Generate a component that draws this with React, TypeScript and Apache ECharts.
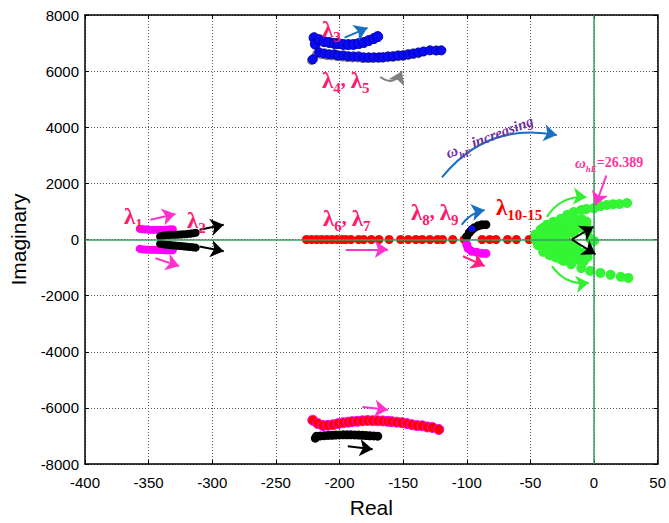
import React, { useEffect, useRef } from "react";
import * as echarts from "echarts";

// ---------- data (Real, Imaginary) ----------
const lambda1Up: number[][] = [[-357,380],[-355,370],[-353,360],[-351,355],[-349,350],[-347,350],[-345,345],[-343,345],[-341,345],[-339,350],[-337,350],[-335,355],[-333,360],[-331,365]];
const lambda1Low: number[][] = [[-357,-330],[-355,-345],[-353,-355],[-351,-360],[-349,-365],[-347,-365],[-345,-370],[-343,-370],[-341,-375],[-339,-375],[-337,-380],[-335,-380],[-333,-385],[-331,-385]];
const lambda2Up: number[][] = [[-341,110],[-339,130],[-337,150],[-335,160],[-333,165],[-331,170],[-329,170],[-327,175],[-325,180],[-323,185],[-321,190],[-319,200],[-317,210],[-315,225],[-313,240]];
const lambda2Low: number[][] = [[-341,-150],[-339,-165],[-337,-180],[-335,-190],[-333,-200],[-331,-210],[-329,-215],[-327,-225],[-325,-230],[-323,-240],[-321,-250],[-319,-260],[-317,-270],[-315,-280],[-313,-290]];
const lambda3: number[][] = [[-220,7190],[-219,6960],[-216,7120],[-212,7050],[-208,7020],[-204,6985],[-201,6980],[-197,6950],[-193,6945],[-189,6950],[-185,6980],[-181,7020],[-177,7090],[-173,7160],[-170,7230]];
const lambda4: number[][] = [[-221,6420],[-216,6670],[-212,6630],[-208,6600],[-204,6600],[-201,6560],[-197,6560],[-193,6530],[-189,6525],[-185,6525],[-181,6490],[-177,6490],[-173,6490],[-169,6490],[-166,6495],[-162,6525],[-158,6530],[-154,6560],[-150,6565],[-146,6600],[-142,6630],[-138,6665],[-134,6700],[-129,6740],[-124,6735],[-120,6740]];
const lambda5: number[][] = [[-222,6380],[-218,6600],[-214,6580],[-210,6550],[-206,6540],[-202,6520],[-198,6500],[-194,6480],[-190,6470],[-186,6470],[-182,6450],[-178,6450],[-174,6450],[-170,6455],[-166,6460],[-162,6480],[-158,6490],[-154,6510],[-150,6530],[-146,6560],[-142,6590],[-138,6620]];
const lambdaBottomRed: number[][] = [[-221,-6440],[-217,-6560],[-213,-6630],[-209,-6620],[-205,-6600],[-201,-6560],[-197,-6530],[-193,-6510],[-190,-6490],[-186,-6480],[-182,-6460],[-178,-6450],[-174,-6455],[-170,-6460],[-166,-6465],[-162,-6480],[-159,-6490],[-155,-6510],[-151,-6530],[-147,-6560],[-143,-6600],[-139,-6630],[-135,-6640],[-131,-6680],[-127,-6700],[-122,-6770]];
const lambdaBottomBlack: number[][] = [[-219,-7080],[-218,-7010],[-215,-7000],[-212,-6990],[-209,-6980],[-206,-6975],[-203,-6970],[-200,-6965],[-197,-6960],[-194,-6960],[-191,-6960],[-188,-6965],[-185,-6970],[-182,-6975],[-179,-6985],[-176,-6995],[-173,-7000],[-170,-7010]];
const lambda67: number[][] = [[-226,0],[-222,0],[-218,0],[-214,0],[-210,0],[-206,0],[-202,0],[-198,0],[-195,0],[-191,0],[-185,0],[-181,0],[-175,0],[-169,0],[-161,0],[-152,0],[-146,0],[-140,0],[-135,0],[-129,0],[-123,0],[-119,0],[-111,0],[-102,0],[-88,0],[-82,0],[-77,0],[-68,0],[-61,0],[-51,0],[-45,0],[-38,0],[-30,0],[-22,0]];
const lambda8: number[][] = [[-100,105],[-98,245],[-96,350],[-94,420],[-91,490],[-88,526],[-85,530]];
const lambda8Start: number[][] = [[-96,380]];
const lambda9: number[][] = [[-100,-175],[-99,-315],[-96,-420],[-92,-456],[-88,-491],[-85,-495]];
const greenUpOuter: number[][] = [[-46,180],[-42,350],[-37,530],[-32,630],[-26,740],[-21,880],[-16,980],[-10,1050],[-6,1090],[0,1120],[5,1190],[10,1230],[15,1260],[20,1265],[26,1300]];
const greenUpMid: number[][] = [[-44,120],[-39,250],[-34,370],[-29,470],[-24,560],[-19,640],[-14,700],[-10,740],[-6,640]];
const greenUpInner: number[][] = [[-43,60],[-38,150],[-33,230],[-28,300],[-23,350],[-18,390],[-13,400],[-8,380],[-5,300]];
const greenAxis: number[][] = [[-46,0],[-42,20],[-38,-20],[-34,40],[-30,-40],[-25,60],[0,-50],[-3,30]];
const greenLowInner: number[][] = [[-43,-80],[-38,-180],[-33,-260],[-28,-330],[-23,-380],[-18,-420],[-13,-450],[-8,-470]];
const greenLowMid: number[][] = [[-44,-150],[-39,-290],[-34,-410],[-29,-510],[-24,-590],[-18,-660],[-13,-720],[-8,-770],[-5,-620]];
const greenLowOuter: number[][] = [[-44,-200],[-39,-350],[-33,-530],[-26,-700],[-18,-880],[-10,-1020],[-3,-1120],[5,-1190],[13,-1260],[21,-1330],[27,-1370]];
const greenFill: number[][] = [[-45,-60],[-41,-120],[-40,100],[-36,-60],[-36,80],[-32,-150],[-32,150],[-28,-80],[-28,100],[-26,-200],[-26,220],[-22,-120],[-22,160],[-20,-260],[-20,260],[-16,-200],[-16,220],[-14,-300],[-12,520],[-12,-560],[-9,560],[-9,-600],[-6,450],[-6,-470],[-40,420],[-35,520],[-30,600],[-40,-440],[-35,-560],[-30,-640],[-24,-760],[-24,680]];

const X_MIN = -400, X_MAX = 50, X_STEP = 50;
const Y_MIN = -8000, Y_MAX = 8000, Y_STEP = 2000;

// annotation arrows (data coordinates)
const arrows = [
  { c: [[-348.5, 702], [-329, 912]], color: "#ff33cc", cv: 0 },
  { c: [[-344.6, -667], [-326, -947]], color: "#ff33cc", cv: 0 },
  { c: [[-310, 351], [-291, 526]], color: "#000000", cv: 0 },
  { c: [[-310, -246], [-291, -421]], color: "#000000", cv: 0 },
  { c: [[-196, 7193], [-178, 7544]], color: "#1a70c0", cv: 0 },
  { c: [[-168, 5790], [-151, 6000]], color: "#808080", cv: -0.6 },
  { c: [[-195, -351], [-162, -351]], color: "#ff33cc", cv: 0 },
  { c: [[-104, 526], [-86, 1053]], color: "#1a70c0", cv: 0.2 },
  { c: [[-103, -597], [-86, -947]], color: "#ff2080", cv: 0 },
  { c: [[-37, 807], [-6, 1509]], color: "#33ee33", cv: 0.3 },
  { c: [[-33, -947], [-4, -1544]], color: "#33ee33", cv: -0.3 },
  { c: [[-17.5, 0], [-0.4, 456]], color: "#000000", cv: 0 },
  { c: [[-17.5, 0], [1.2, -526]], color: "#000000", cv: 0 },
  { c: [[9.7, 2281], [1.2, 1228]], color: "#ff33cc", cv: 0 },
  { c: [[-119.5, 2211], [-29.2, 3720]], color: "#1a70c0", cv: 0.3 },
  { c: [[-182, -5965], [-162, -6070]], color: "#ff33cc", cv: 0 },
  { c: [[-193.5, -7369], [-174, -7474]], color: "#000000", cv: 0 },
];

const SERIF = "'Liberation Serif', 'Times New Roman', serif";
const SANS = "'Liberation Sans', Arial, sans-serif";

function sc(name: string, data: number[][], color: string, size: number, border?: string, z = 2) {
  return {
    name,
    type: "scatter",
    data,
    symbol: "circle",
    symbolSize: size,
    z,
    itemStyle: { color, opacity: 1, borderColor: border || color, borderWidth: border ? 1 : 0 },
    silent: true,
  };
}

const lamRich = (color: string) => ({
  l: { fontFamily: SERIF, fontSize: 23, fontWeight: "bold", fill: color, lineHeight: 22, verticalAlign: "top" },
  s: { fontFamily: SERIF, fontSize: 15, fontWeight: "bold", fill: color, lineHeight: 14, padding: [11, 0, 0, 0], verticalAlign: "top" },
  c: { fontFamily: SERIF, fontSize: 20, fontWeight: "bold", fill: color, lineHeight: 22, verticalAlign: "top" },
});

function lamText(x: number, y: number, text: string, color: string) {
  return {
    type: "text",
    x,
    y,
    z: 100,
    zlevel: 1,
    silent: true,
    style: { text, rich: lamRich(color), fill: color, textVerticalAlign: "top", textAlign: "left" },
  };
}

export default function App() {
  const ref = useRef<HTMLDivElement>(null);
  useEffect(() => {
    document.body.style.margin = "0";
    const chart = echarts.init(ref.current!, null, { renderer: "svg" });
    const axisCommon = {
      type: "value",
      axisLine: { show: true, onZero: false, lineStyle: { color: "#000", width: 1.5 } },
      axisTick: { show: true, inside: true, length: 4, lineStyle: { color: "#000" } },
    };
    const fmt = (v: number) => String(v);
    const option: any = {
      animation: false,
      backgroundColor: "#ffffff",
      grid: { left: 81, right: 8, top: 15, bottom: 52, containLabel: false },
      xAxis: [
        {
          ...axisCommon,
          min: X_MIN, max: X_MAX, interval: X_STEP,
          position: "bottom",
          name: "Real",
          nameLocation: "middle",
          nameGap: 33,
          nameTextStyle: { fontFamily: SANS, fontSize: 21, color: "#000" },
          axisLabel: { fontFamily: SANS, fontSize: 15, color: "#000", margin: 11, formatter: fmt },
          splitLine: { show: true, lineStyle: { type: [1, 2], color: "#555", width: 1 } },
        },
        {
          ...axisCommon,
          min: X_MIN, max: X_MAX, interval: X_STEP,
          position: "top",
          axisLabel: { show: false },
          splitLine: { show: false },
        },
      ],
      yAxis: [
        {
          ...axisCommon,
          min: Y_MIN, max: Y_MAX, interval: Y_STEP,
          position: "left",
          name: "Imaginary",
          nameLocation: "middle",
          nameGap: 56,
          nameTextStyle: { fontFamily: SANS, fontSize: 21, color: "#000" },
          axisLabel: { fontFamily: SANS, fontSize: 15, color: "#000", margin: 6, formatter: fmt },
          splitLine: { show: true, lineStyle: { type: [1, 2], color: "#555", width: 1 } },
        },
        {
          ...axisCommon,
          min: Y_MIN, max: Y_MAX, interval: Y_STEP,
          position: "right",
          axisLabel: { show: false },
          splitLine: { show: false },
        },
      ],
      series: [
        {
          type: "scatter",
          data: [],
          z: 1,
          markLine: {
            silent: true,
            symbol: ["none", "none"],
            label: { show: false },
            lineStyle: { color: "#3a9e60", width: 1.5, type: "solid" },
            data: [{ xAxis: 0 }, { yAxis: 0 }],
          },
        },
        sc("λ1 up", lambda1Up, "#ff00ff", 8),
        sc("λ1 low", lambda1Low, "#ff00ff", 8),
        sc("λ2 up", lambda2Up, "#000000", 8),
        sc("λ2 low", lambda2Low, "#000000", 8),
        sc("λ3", lambda3, "#0a0af5", 10, "#0000aa"),
        sc("λ5", lambda5, "#808080", 9),
        sc("λ4", lambda4, "#0a0af5", 9, "#0000aa"),
        sc("bottom red", lambdaBottomRed, "#ff0000", 10, "#ff00ff"),
        sc("bottom black", lambdaBottomBlack, "#000000", 9),
        sc("λ6,7", lambda67, "#ff0000", 9),
        sc("green up outer", greenUpOuter, "#33f533", 10),
        sc("green up mid", greenUpMid, "#33f533", 10),
        sc("green up inner", greenUpInner, "#33f533", 10),
        sc("green axis", greenAxis, "#33f533", 10),
        sc("green fill", greenFill, "#33f533", 10),
        sc("green low inner", greenLowInner, "#33f533", 10),
        sc("green low mid", greenLowMid, "#33f533", 10),
        sc("green low outer", greenLowOuter, "#33f533", 10),
        sc("λ8", lambda8, "#000000", 9),
        sc("λ8 start", lambda8Start, "#0a0af5", 7),
        sc("λ9", lambda9, "#ff00ff", 9),
        {
          type: "lines",
          coordinateSystem: "cartesian2d",
          silent: true,
          z: 10,
          symbol: ["none", "arrow"],
          symbolSize: [11, 13],
          lineStyle: { width: 2, opacity: 1 },
          data: arrows.map((a) => ({
            coords: a.c,
            lineStyle: { color: a.color, curveness: a.cv, width: 2, opacity: 1 },
          })),
        },
      ],
      graphic: {
        z: 100,
        zlevel: 1,
        elements: [
          lamText(124, 205, "{l|λ}{s|1}", "#ff1a6e"),
          lamText(187, 209, "{l|λ}{s|2}", "#ff1a6e"),
          lamText(322, 18, "{l|λ}{s|3}", "#ff1a6e"),
          lamText(322, 69, "{l|λ}{s|4}{c|, }{l|λ}{s|5}", "#ff1a6e"),
          lamText(323, 207, "{l|λ}{s|6}{c|, }{l|λ}{s|7}", "#ff1a6e"),
          lamText(411, 201, "{l|λ}{s|8}{c|, }{l|λ}{s|9}", "#ff1a6e"),
          lamText(496, 196, "{l|λ}{s|10-15}", "#ff0000"),
          {
            type: "text",
            x: 575,
            y: 155,
            z: 100,
            zlevel: 1,
            silent: true,
            style: {
              text: "{w|ω}{h|hE}{e|=26.389}",
              textVerticalAlign: "top",
              rich: {
                w: { fontFamily: SERIF, fontSize: 15, fontStyle: "italic", fontWeight: "bold", fill: "#ff3399", lineHeight: 14, verticalAlign: "top" },
                h: { fontFamily: SERIF, fontSize: 9, fontStyle: "italic", fontWeight: "bold", fill: "#ff3399", lineHeight: 9, padding: [9, 0, 0, 0], verticalAlign: "top" },
                e: { fontFamily: SERIF, fontSize: 14, fontWeight: "bold", fill: "#ff3399", lineHeight: 16, verticalAlign: "top" },
              },
            },
          },
          {
            type: "text",
            x: 490,
            y: 138,
            rotation: 0.36,
            z: 100,
            zlevel: 1,
            silent: true,
            style: {
              text: "{w|ω}{h|hE}{e| increasing}",
              textAlign: "center",
              textVerticalAlign: "middle",
              rich: {
                w: { fontFamily: SERIF, fontSize: 16, fontStyle: "italic", fontWeight: "bold", fill: "#7030a0", lineHeight: 16, verticalAlign: "top" },
                h: { fontFamily: SERIF, fontSize: 10, fontStyle: "italic", fontWeight: "bold", fill: "#7030a0", lineHeight: 10, padding: [10, 0, 0, 0], verticalAlign: "top" },
                e: { fontFamily: SERIF, fontSize: 15, fontStyle: "italic", fontWeight: "bold", fill: "#7030a0", lineHeight: 18, verticalAlign: "top" },
              },
            },
          },
        ],
      },
    };
    chart.setOption(option);
    return () => chart.dispose();
  }, []);
  return <div ref={ref} style={{ position: "absolute", left: 0, top: 0, width: 669, height: 523 }} />;
}
